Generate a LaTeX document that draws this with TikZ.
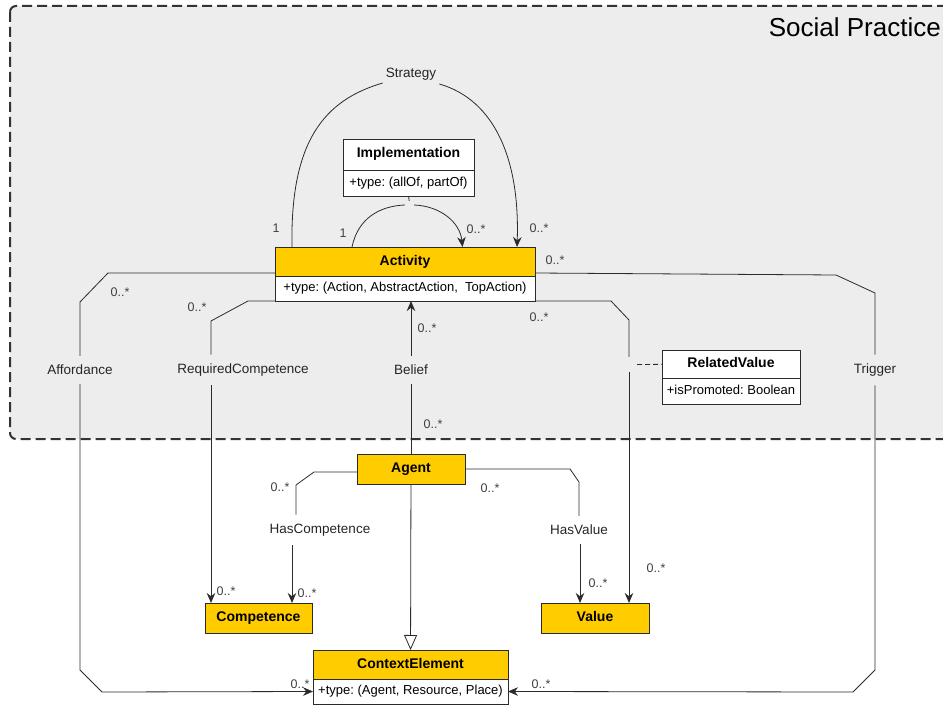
\documentclass[tikz,border=0pt]{standalone}
\usepackage{fontspec}
\setmainfont{Liberation Sans}
\usepackage{xcolor}
\usepackage{tikz}
\usetikzlibrary{arrows.meta, positioning}
\frenchspacing

\definecolor{umlamarillo}{HTML}{FFCC00}
\definecolor{umlgris}{HTML}{EDEDED}
\definecolor{umllinea}{HTML}{2B2B2B}

\tikzset{
  clase/.style={draw=umllinea, line width=0.9pt, fill=umlamarillo, font=\fontsize{14}{16}\selectfont\bfseries, minimum height=29pt, text height=10pt, text depth=3pt, inner sep=2pt, outer sep=0pt},
  atributo/.style={draw=umllinea, line width=0.9pt, fill=white, font=\fontsize{13}{15}\selectfont, minimum height=25pt, text height=9.5pt, text depth=3pt, inner xsep=3pt, inner ysep=0pt, outer sep=0pt},
  etiq/.style={font=\fontsize{13.5}{16}\selectfont, text=black!85, inner xsep=3pt, inner ysep=9pt},
  mult/.style={font=\fontsize{12.5}{14}\selectfont, text=black!75, inner sep=0pt},
  asoc/.style={draw=umllinea, line width=0.8pt},
  flecha/.style={asoc, -{Stealth[length=10pt, width=8.5pt]}},
}

\begin{document}
\begin{tikzpicture}[x=1pt, y=-1pt]
\useasboundingbox (0,0) rectangle (943,706);
\clip (0,0) rectangle (943,706);

% Marco de la practica
\draw[draw=black!80, line width=2pt, dash pattern=on 10pt off 5pt, fill=umlgris, rounded corners=6pt] (10,6) rectangle (990,439);
\node[font=\fontsize{26}{30}\selectfont, anchor=east, inner sep=0pt] (titulo) at (941,27) {Social Practice};

% Clases
\node[clase, minimum width=260pt] (act) at (405,261.5) {Activity};
\node[atributo, minimum width=260pt, below=0pt of act] (actattr) {+type: (Action, AbstractAction,\ \ TopAction)};

\node[clase, fill=white, minimum width=131pt, minimum height=31pt] (impl) at (408.5,154.5) {Implementation};
\node[atributo, minimum width=131pt, minimum height=26pt, below=0pt of impl] (implattr) {+type: (allOf, partOf)};

\node[clase, fill=white, minimum width=138pt, minimum height=28pt] (relval) at (731,364) {RelatedValue};
\node[atributo, minimum width=138pt, minimum height=26pt, below=0pt of relval] (relvalattr) {+isPromoted: Boolean};

\node[clase, minimum width=108pt, minimum height=30pt] (agent) at (411,469) {Agent};
\node[clase, minimum width=107pt, minimum height=30pt] (comp) at (258.5,618) {Competence};
\node[clase, minimum width=108pt, minimum height=30pt] (val) at (595,618) {Value};

\node[clase, minimum width=195pt] (ctx) at (410.5,664.5) {ContextElement};
\node[atributo, minimum width=195pt, below=0pt of ctx] (ctxattr) {+type: (Agent, Resource, Place)};

% Nombres de asociaciones
\node[etiq] (strat) at (411,74) {Strategy};
\node[etiq] (afford) at (80,370) {Affordance};
\node[etiq] (reqcomp) at (243,370) {RequiredCompetence};
\node[etiq] (belief) at (411,370) {Belief};
\node[etiq] (trigger) at (875,370) {Trigger};
\node[etiq] (hascomp) at (320,530) {HasCompetence};
\node[etiq] (hasval) at (579,530) {HasValue};
\node[inner sep=0pt, minimum width=16pt, minimum height=15pt] (rvmid) at (629,364.5) {};
\node[inner sep=0pt, minimum width=9pt, minimum height=4pt] (implmid) at (409.5,205) {};

% Asociaciones
\draw[asoc] ([xshift=17pt]act.north west) .. controls (290,140) and (325,100) .. ([yshift=-9pt]strat.west);
\draw[flecha] ([yshift=-10pt]strat.east) .. controls (495,100) and (520,160) .. ([xshift=-18pt]act.north east);
\draw[asoc] ([xshift=77pt]act.north west) .. controls (358,218) and (380,206) .. (implmid.west);
\draw[flecha] (implmid.east) .. controls (440,206) and (460,222) .. ([xshift=-72.5pt]act.north east);
\draw[asoc, dash pattern=on 5pt off 3pt] (implattr.south) -- (implmid.north);

\draw[asoc] ([yshift=-11.5pt]act.west) -- (108,273) -- (80,302) -- (afford);
\draw[flecha] (afford) -- (80,670) -- (102,692) -- (ctxattr.west);

\draw[asoc] (actattr.south west) -- (248,301) -- (211,321) -- (reqcomp.north -| 211,0);
\draw[flecha] (reqcomp.south -| 211,0) -- ([xshift=6pt]comp.north west);

\draw[asoc] (agent) -- (belief);
\draw[flecha] (belief) -- (belief |- actattr.south);

\draw[asoc] (actattr.south east) -- (611,301) -- (629,320) -- (rvmid);
\draw[flecha] (rvmid) -- (rvmid |- val.north);
\draw[asoc, dash pattern=on 5pt off 3pt] (rvmid) -- (relval);

\draw[asoc] ([yshift=-11.5pt]act.east) -- (836,275) -- (875,293) -- (trigger);
\draw[flecha] (trigger) -- (875,670) -- (853,692) -- (ctxattr.east);

\draw[asoc] ([yshift=-3pt]agent.west) -- (314,472) -- (296,485) -- (hascomp.north -| 296,0);
\draw[flecha] (hascomp.south -| 292,0) -- (comp.north -| 292,0);

\draw[asoc] (agent.east) -- (570,469) -- (579,482) -- (hasval);
\draw[flecha] (hasval.south -| 580,0) -- (val.north -| 580,0);

\draw[asoc, -{Triangle[open, length=15pt, width=13pt]}] (agent) -- (ctx);

% Multiplicidades
\node[mult] (m1) at (276,228) {1};
\node[mult] (m2) at (539,228) {0..*};
\node[mult] (m3) at (343,233) {1};
\node[mult] (m4) at (476,229) {0..*};
\node[mult] (m5) at (555,260) {0..*};
\node[mult] (m6) at (120,292) {0..*};
\node[mult] (m7) at (197,307) {0..*};
\node[mult] (m8) at (427,328) {0..*};
\node[mult] (m9) at (539,317) {0..*};
\node[mult] (m10) at (433,424) {0..*};
\node[mult] (m11) at (280,487) {0..*};
\node[mult] (m12) at (490,488) {0..*};
\node[mult] (m13) at (226,591) {0..*};
\node[mult] (m14) at (307,593) {0..*};
\node[mult] (m15) at (598,583) {0..*};
\node[mult] (m16) at (656,568) {0..*};
\node[mult] (m17) at (300,684) {0..*};
\node[mult] (m18) at (541,684) {0..*};
\end{tikzpicture}
\end{document}
